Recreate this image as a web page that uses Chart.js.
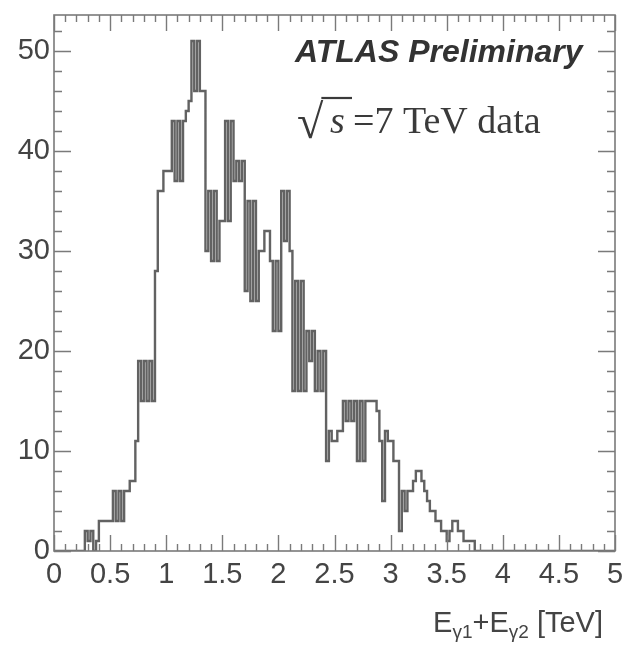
<!DOCTYPE html>
<html><head><meta charset="utf-8">
<script src="https://cdn.jsdelivr.net/npm/chart.js@4/dist/chart.umd.min.js"></script>
<style>html,body{margin:0;padding:0;background:#fff;}#c{display:block;}</style>
</head><body>
<canvas id="c" width="622" height="645"></canvas>
<script>
// Histogram of E_g1+E_g2 [TeV], bins of 0.025 TeV from 0 to 5
const binWidth = 0.025;
const counts = [
 0,0,0,0,0,0,0,0,0,0, 0,0,2,1,2,0,1,3,3,3,
 3,3,6,3,6,3,6,6,7,7, 11,19,15,19,15,19,15,28,36,36,
 38,38,38,43,37,43,37,43,44,45, 51,46,51,46,46,30,36,29,36,29,
 33,33,43,33,43,37,39,37,39,26, 35,25,35,25,30,30,32,32,29,22,
 29,22,36,31,36,30,16,27,16,27, 16,22,19,22,16,20,16,20,9,12,
 11,11,12,12,15,13,15,13,15,9, 15,9,15,15,15,15,14,11,5,12,
 11,11,9,9,2,6,4,6,6,7, 8,8,7,6,5,4,4,3,3,2,
 2,1,2,3,3,2,2,1,1,1, 1,0,0,0,0,0,0,0,0,0,
 0,0,0,0,0,0,0,0,0,0, 0,0,0,0,0,0,0,0,0,0,
 0,0,0,0,0,0,0,0,0,0, 0,0,0,0,0,0,0,0,0,0
];
const xRange = [0, 5];
const yRange = [0, 53.6];
const xTickLabels = ['0','0.5','1','1.5','2','2.5','3','3.5','4','4.5','5'];
const yTickLabels = ['0','10','20','30','40','50'];

const points = counts.map((c, i) => ({x: i * binWidth, y: c}));
points.push({x: counts.length * binWidth, y: 0});

const LINE = '#626262';
const FRAME = '#7a7a7a';
const TEXT = '#444';

const framePlugin = {
  id: 'frame',
  afterDatasetsDraw(chart) {
    const {ctx, chartArea: a, scales: {x, y}} = chart;
    ctx.save();
    ctx.strokeStyle = FRAME;
    ctx.lineWidth = 1.6;
    ctx.strokeRect(a.left, a.top, a.right - a.left, a.bottom - a.top);
    ctx.lineWidth = 1.4;
    ctx.beginPath();
    for (let k = 0; k <= 50; k++) {
      const v = k * 0.1;
      const px = Math.round(x.getPixelForValue(v)) + 0.5;
      const len = (k % 5 === 0) ? 16 : 7;
      ctx.moveTo(px, a.bottom); ctx.lineTo(px, a.bottom - len);
      ctx.moveTo(px, a.top); ctx.lineTo(px, a.top + len);
    }
    for (let k = 0; k <= 26; k++) {
      const v = k * 2;
      const py = Math.round(y.getPixelForValue(v)) + 0.5;
      const len = (k % 5 === 0) ? 17 : 8;
      ctx.moveTo(a.left, py); ctx.lineTo(a.left + len, py);
      ctx.moveTo(a.right, py); ctx.lineTo(a.right - len, py);
    }
    ctx.stroke();
    ctx.restore();
  },
  afterDraw(chart) {
    const {ctx} = chart;
    ctx.save();
    ctx.fillStyle = '#333';
    ctx.textBaseline = 'alphabetic';
    ctx.textAlign = 'left';
    ctx.font = 'italic bold 32px "Liberation Sans", Arial, sans-serif';
    ctx.fillText('ATLAS Preliminary', 295, 62);

    ctx.fillStyle = '#3a3a3a';
    ctx.font = '48px "Liberation Serif", "Times New Roman", serif';
    ctx.fillText('\u221A', 297, 138);
    const rw = ctx.measureText('\u221A').width;
    ctx.strokeStyle = '#3a3a3a';
    ctx.lineWidth = 2.2;
    ctx.beginPath();
    ctx.moveTo(297 + rw - 2, 98); ctx.lineTo(352, 98);
    ctx.stroke();
    ctx.font = 'italic 38px "Liberation Serif", "Times New Roman", serif';
    ctx.fillText('s', 330, 133);
    ctx.font = '38px "Liberation Serif", "Times New Roman", serif';
    ctx.fillText('=7 TeV data', 353, 133);

    // x axis title
    const big = '29px "Liberation Sans", Arial, sans-serif';
    const small = '19px "Liberation Sans", Arial, sans-serif';
    const parts = [
      {t: 'E', f: big, dy: 0}, {t: '\u03B31', f: small, dy: 6},
      {t: '+', f: big, dy: 0}, {t: 'E', f: big, dy: 0}, {t: '\u03B32', f: small, dy: 6},
      {t: ' [TeV]', f: big, dy: 0}
    ];
    let total = 0;
    parts.forEach(p => { ctx.font = p.f; p.w = ctx.measureText(p.t).width; total += p.w; });
    let cx = 603 - total;
    const base = 632;
    ctx.fillStyle = TEXT;
    parts.forEach(p => { ctx.font = p.f; ctx.fillText(p.t, cx, base + p.dy); cx += p.w; });
    ctx.restore();
  }
};

new Chart(document.getElementById('c'), {
  type: 'line',
  data: {
    datasets: [{
      data: points,
      stepped: 'after',
      borderColor: LINE,
      borderWidth: 2.4,
      pointRadius: 0,
      fill: false,
      tension: 0
    }]
  },
  options: {
    responsive: false,
    animation: false,
    devicePixelRatio: 1,
    layout: {padding: {top: 15, right: 7, left: 0, bottom: 0}},
    plugins: {legend: {display: false}, tooltip: {enabled: false}},
    scales: {
      x: {
        type: 'linear', min: xRange[0], max: xRange[1],
        grid: {display: false, drawTicks: false},
        border: {display: false},
        ticks: {
          stepSize: 0.5, includeBounds: false, maxRotation: 0, autoSkip: false,
          color: TEXT, padding: 7,
          font: {family: '"Liberation Sans", Arial, sans-serif', size: 29},
          callback: (v) => { const i = Math.round(v / 0.5); return xTickLabels[i] ?? ''; }
        },
        afterFit: (s) => { s.height = 94; s.paddingLeft = 0; s.paddingRight = 0; }
      },
      y: {
        type: 'linear', min: yRange[0], max: yRange[1],
        grid: {display: false, drawTicks: false},
        border: {display: false},
        ticks: {
          stepSize: 10, includeBounds: false, color: TEXT, padding: 4,
          font: {family: '"Liberation Sans", Arial, sans-serif', size: 29},
          callback: (v) => { const i = Math.round(v / 10); return (Math.abs(v - i*10) < 1e-6) ? (yTickLabels[i] ?? '') : ''; }
        },
        afterFit: (s) => { s.width = 54; s.paddingTop = 0; s.paddingBottom = 0; }
      }
    }
  },
  plugins: [framePlugin]
});
</script>
</body></html>
